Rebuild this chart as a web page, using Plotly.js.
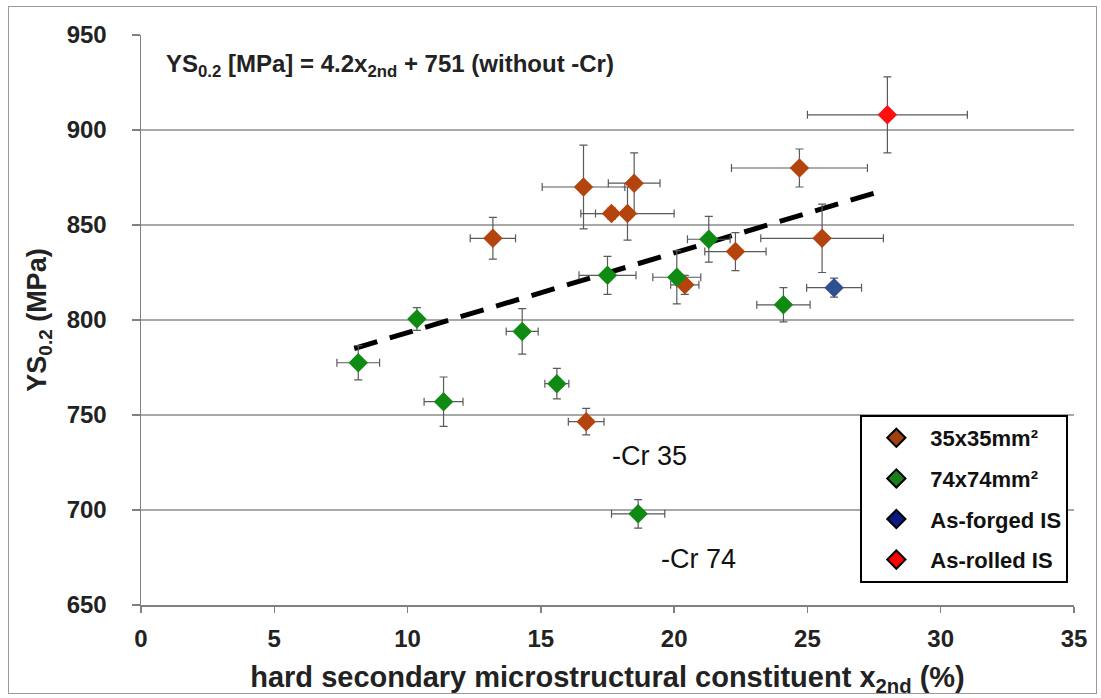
<!DOCTYPE html>
<html>
<head>
<meta charset="utf-8">
<script src="https://cdn.plot.ly/plotly-3.0.1.min.js"></script>
<style>
  html, body { margin: 0; padding: 0; background: #fff; }
  #wrap { position: relative; width: 1101px; height: 698px; }
  #chart { width: 1101px; height: 698px; }
  #frame { position: absolute; left: 8px; top: 6px; width: 1089px; height: 688px;
           border: 1px solid #9a9a9a; box-sizing: border-box; pointer-events: none; }
</style>
</head>
<body>
<div id="wrap"><div id="chart"></div><div id="frame"></div></div>
<script>
// ---- data ----
const seriesNames = ["35x35mm²", "74x74mm²", "As-forged IS", "As-rolled IS"];

const x35 = [13.2, 16.6, 18.5, 17.65, 18.25, 20.4, 22.3, 24.7, 25.55, 16.7];
const y35 = [843, 870, 872, 856, 856, 818.5, 836, 880, 843, 746.5];
const xe35 = [0.85, 1.55, 0.97, 0.6, 1.75, 0.53, 1.15, 2.55, 2.3, 0.67];
const ye35 = [11, 22, 16, 3, 14, 5, 10, 10, 18, 7];

const x74 = [8.15, 10.35, 11.35, 14.3, 15.6, 17.5, 20.1, 21.3, 24.1, 18.65];
const y74 = [777.5, 800.5, 757, 794, 766.5, 823.5, 822.5, 842.5, 808, 698];
const xe74 = [0.8, 0.2, 0.73, 0.6, 0.45, 1.07, 0.9, 0.8, 1.0, 1.0];
const ye74 = [9, 6, 13, 12, 8, 10, 14, 12, 9, 7.5];

const xForged = [26.0];
const yForged = [817];
const xeForged = [1.03];
const yeForged = [5];

const xRolled = [28.0];
const yRolled = [908];
const xeRolled = [3.0];
const yeRolled = [20];

const trendX = [8.0, 27.8];
const trendY = [785, 868];

const xTicks = [0, 5, 10, 15, 20, 25, 30, 35];
const yTicks = [650, 700, 750, 800, 850, 900, 950];

// ---- styling ----
const FONT = "Liberation Sans, Arial, sans-serif";
const markerColors = ["#B4440E", "#0F8A12", "#2F5190", "#FF1010"];
const legendColors = ["#A0400C", "#1A7F1A", "#0A1A80", "#FF0000"];
const errStyle = (arr) => ({type: "data", array: arr, visible: true, color: "#5a5a5a", thickness: 1.2, width: 4});

function dataTrace(x, y, xe, ye, i) {
  return {
    x: x, y: y, type: "scatter", mode: "markers", showlegend: false,
    marker: {symbol: "diamond", size: 15, color: markerColors[i], line: {width: 0}},
    error_x: errStyle(xe), error_y: errStyle(ye), hoverinfo: "x+y"
  };
}
function legendTrace(i) {
  return {
    x: [null], y: [null], type: "scatter", mode: "markers", name: seriesNames[i],
    legendgroup: "g" + i, showlegend: true,
    marker: {symbol: "diamond", size: 14, color: legendColors[i], line: {width: 2, color: "#000"}}
  };
}

const traces = [
  {x: trendX, y: trendY, type: "scatter", mode: "lines", showlegend: false,
   line: {color: "#000", width: 5, dash: "24px,13px"}, hoverinfo: "skip"},
  dataTrace(x35, y35, xe35, ye35, 0),
  dataTrace(x74, y74, xe74, ye74, 1),
  dataTrace(xForged, yForged, xeForged, yeForged, 2),
  dataTrace(xRolled, yRolled, xeRolled, yeRolled, 3),
  legendTrace(0), legendTrace(1), legendTrace(2), legendTrace(3)
];

const tickFont = {family: FONT, size: 24, color: "#222", weight: "bold"};

const layout = {
  width: 1101, height: 698,
  margin: {l: 141, r: 27, t: 35, b: 93},
  paper_bgcolor: "#fff", plot_bgcolor: "#fff",
  font: {family: FONT, color: "#222"},
  xaxis: {
    range: [0, 35], tickvals: xTicks, ticktext: xTicks.map(String),
    showgrid: false, zeroline: false,
    showline: true, linecolor: "#808080", linewidth: 1.5,
    ticks: "outside", ticklen: 6, tickcolor: "#808080", tickwidth: 1.5,
    tickfont: tickFont, ticklabelstandoff: 6,
    title: {text: "hard secondary microstructural constituent x<sub>2nd</sub> (%)",
            font: {family: FONT, size: 29, color: "#222", weight: "bold"}, standoff: 15}
  },
  yaxis: {
    range: [650, 950], tickvals: yTicks, ticktext: yTicks.map(String),
    showgrid: true, gridcolor: "#a8a8a8", gridwidth: 1.5, zeroline: false,
    showline: true, linecolor: "#808080", linewidth: 1.5,
    ticks: "outside", ticklen: 8, tickcolor: "#808080", tickwidth: 1.5,
    tickfont: tickFont, ticklabelstandoff: 20,
    title: {text: "YS<sub>0.2</sub> (MPa)",
            font: {family: FONT, size: 27, color: "#222", weight: "bold"}, standoff: 12}
  },
  legend: {
    x: 0.771, y: 0.3333, xanchor: "left", yanchor: "top",
    bgcolor: "#fff", bordercolor: "#000", borderwidth: 2,
    font: {family: FONT, size: 22, color: "#111", weight: "bold"},
    traceorder: "grouped", tracegroupgap: 9, itemwidth: 58
  },
  annotations: [
    {x: 0.85, y: 934, xref: "x", yref: "y", xanchor: "left", yanchor: "middle", showarrow: false,
     text: "YS<sub>0.2</sub> [MPa] = 4.2x<sub>2nd</sub> + 751 (without -Cr)",
     font: {family: FONT, size: 24, color: "#222", weight: "bold"}},
    {x: 17.6, y: 728.5, xref: "x", yref: "y", xanchor: "left", yanchor: "middle", showarrow: false,
     text: "-Cr 35", font: {family: FONT, size: 27, color: "#111"}},
    {x: 19.45, y: 674, xref: "x", yref: "y", xanchor: "left", yanchor: "middle", showarrow: false,
     text: "-Cr 74", font: {family: FONT, size: 27, color: "#111"}}
  ]
};

Plotly.newPlot("chart", traces, layout, {displayModeBar: false, staticPlot: true});
</script>
</body>
</html>
